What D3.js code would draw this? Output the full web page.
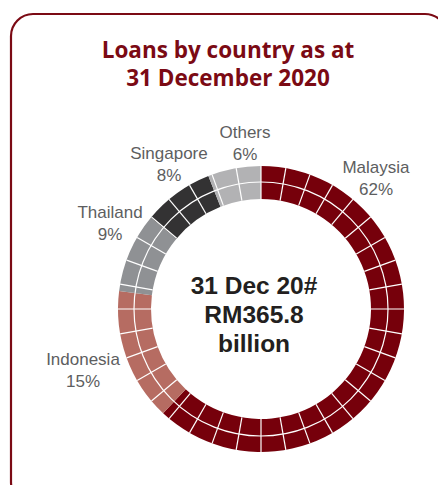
<!DOCTYPE html>
<html><head><meta charset="utf-8">
<script src="https://cdn.jsdelivr.net/npm/d3@7"></script>
<style>body{margin:0;background:#fff;}svg{display:block;}</style>
</head><body>
<svg id="c" width="438" height="485"></svg>
<script>
const countries = ["Malaysia","Indonesia","Thailand","Singapore","Others"];
const shares = [62,15,9,8,6];
const colors = ["#76000b","#b66c62","#8f9194","#333233","#b2b2b4"];
const titleLines = ["Loans by country as at","31 December 2020"];
const centerLines = ["31 Dec 20#","RM365.8","billion"];
const labelPos = [[376,173],[83,365],[110,218],[169,159],[245,138]];

const svg = d3.select("#c");
svg.append("rect").attr("x",11).attr("y",14).attr("width",436).attr("height",490)
  .attr("rx",22).attr("fill","none").attr("stroke","#7b0a14").attr("stroke-width",2.2);

svg.append("g").selectAll("text").data(titleLines).join("text")
  .attr("x",228).attr("y",(d,i)=>58+i*28).attr("text-anchor","middle")
  .attr("font-family","Open Sans").attr("font-weight",700).attr("font-size",22.5)
  .attr("fill","#7b0a14").text(d=>d);

const cx=261, cy=309, r0=110, r1=143, rm=127;
const g = svg.append("g").attr("transform",`translate(${cx},${cy})`);
const pie = d3.pie().sort(null).value(d=>d)(shares);
const arc = d3.arc().innerRadius(r0).outerRadius(r1);
g.selectAll("path").data(pie).join("path").attr("d",arc).attr("fill",(d,i)=>colors[i]);

// segment grid
g.append("circle").attr("r",rm).attr("fill","none").attr("stroke","#fff").attr("stroke-width",1.2);
const ticks = d3.range(0,360,10);
g.selectAll("line.grid").data(ticks).join("line").attr("class","grid")
  .attr("x1",d=>r0*Math.sin(d*Math.PI/180)).attr("y1",d=>-r0*Math.cos(d*Math.PI/180))
  .attr("x2",d=>r1*Math.sin(d*Math.PI/180)).attr("y2",d=>-r1*Math.cos(d*Math.PI/180))
  .attr("stroke","#fff").attr("stroke-width",1.2);

// labels
const lg = svg.append("g").attr("font-family","Liberation Sans, Arial").attr("font-size",17).attr("fill","#5d5e60").attr("text-anchor","middle");
countries.forEach((c,i)=>{
  lg.append("text").attr("x",labelPos[i][0]).attr("y",labelPos[i][1]).text(c);
  lg.append("text").attr("x",labelPos[i][0]).attr("y",labelPos[i][1]+22).text(shares[i]+"%");
});

svg.append("g").selectAll("text").data(centerLines).join("text")
  .attr("x",cx-7).attr("y",(d,i)=>294+i*29).attr("text-anchor","middle")
  .attr("font-family","Liberation Sans, Arial").attr("font-weight",700).attr("font-size",24.5)
  .attr("fill","#231f20").text(d=>d);
</script>
</body></html>
